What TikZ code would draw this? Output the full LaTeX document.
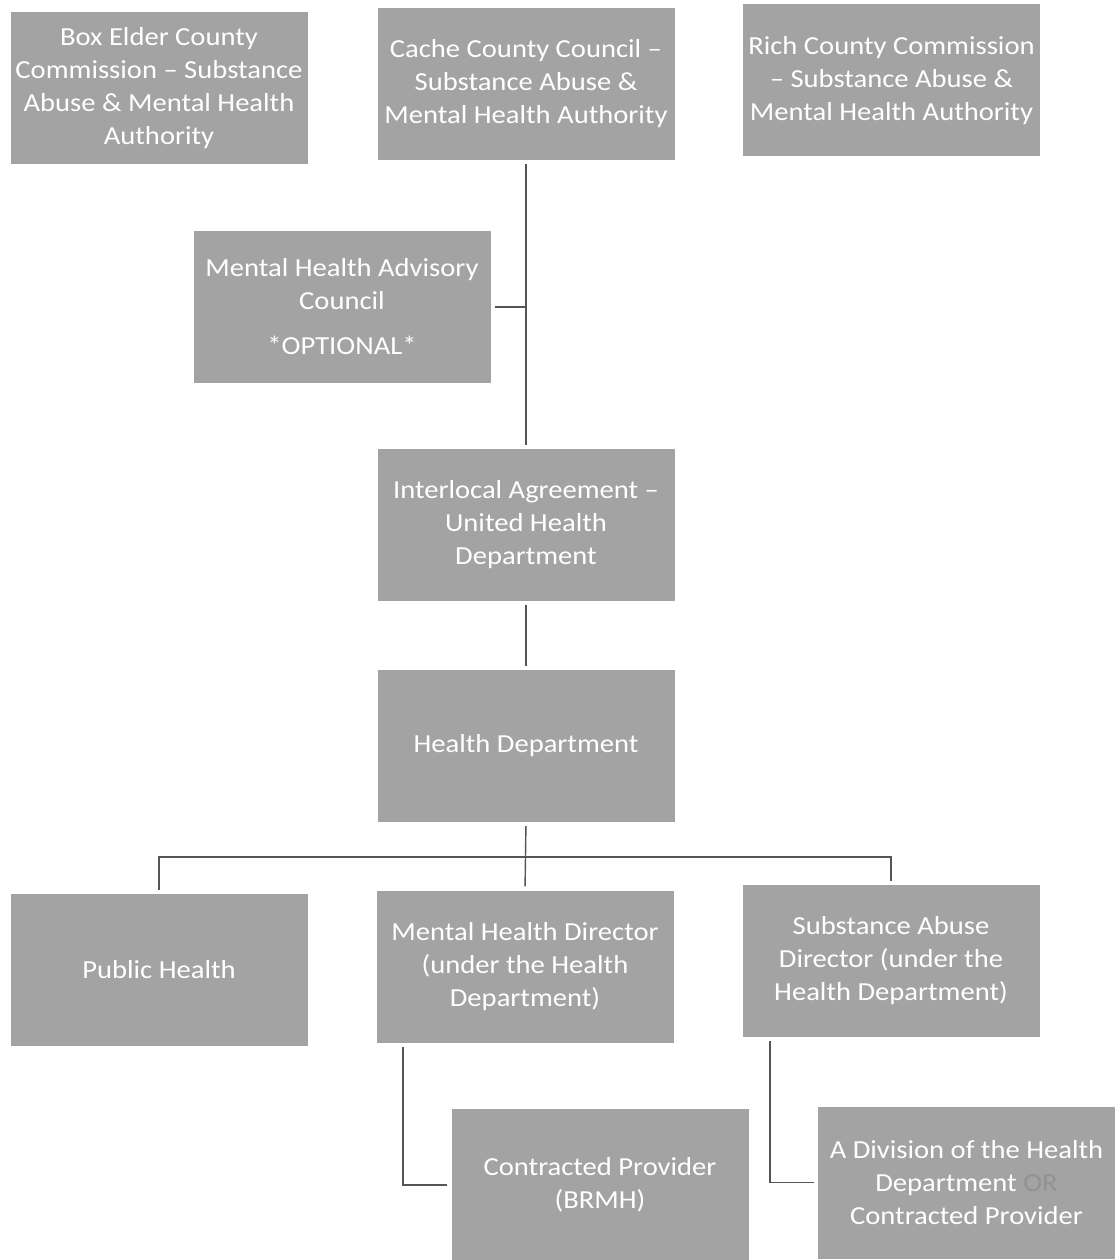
\documentclass[tikz,border=0pt]{standalone}
\usepackage{fontspec}
\setmainfont{Carlito}[FakeStretch=1.1]
\definecolor{boxgray}{RGB}{163,163,163}
\definecolor{linegray}{RGB}{85,85,85}
\definecolor{orgray}{RGB}{146,146,146}
\tikzset{
  orgbox/.style={fill=boxgray, text=white, minimum width=297pt, minimum height=152pt,
    align=center, inner sep=0pt, font=\fontsize{26}{33}\selectfont},
  conn/.style={draw=linegray, line width=1.4pt, shorten <=4pt, shorten >=4pt}
}
\begin{document}
\begin{tikzpicture}[x=1pt,y=-1pt]
\useasboundingbox (0,0) rectangle (1117,1260);
\node[orgbox] (be) at (159,88.5) {Box Elder County\\Commission -- Substance\\Abuse \& Mental Health\\Authority};
\node[orgbox] (cache) at (526,84) {Cache County Council --\\Substance Abuse \&\\Mental Health Authority};
\node[orgbox] (rich) at (891.5,80.5) {Rich County Commission\\-- Substance Abuse \&\\Mental Health Authority};
\node[orgbox] (adv) at (342,307) {Mental Health Advisory\\Council\\[12pt]*OPTIONAL*};
\node[orgbox] (inter) at (526,525) {Interlocal Agreement --\\United Health\\Department};
\node[orgbox] (hd) at (526,746) {Health Department};
\node[orgbox] (ph) at (159,970) {Public Health};
\node[orgbox] (mhd) at (525,966.5) {Mental Health Director\\(under the Health\\Department)};
\node[orgbox] (sad) at (891,961) {Substance Abuse\\Director (under the\\Health Department)};
\node[orgbox] (cp) at (600,1185) {Contracted Provider\\(BRMH)};
\node[orgbox] (div) at (966.5,1182.5) {A Division of the Health\\Department {\color{orgray}OR}\\Contracted Provider};
\coordinate (bus) at (526,857);
\draw[conn] (cache.south) -- (inter.north);
\draw[conn, shorten >=0pt] (adv.east) -- (adv.east -| cache.south);
\draw[conn] (inter.south) -- (hd.north);
\draw[conn] (hd.south) -- (mhd.north);
\draw[conn] (ph.north) |- (bus) -| (sad.north);
\draw[conn] ([xshift=-122pt]mhd.south) |- (cp.west);
\draw[conn] ([xshift=-121pt]sad.south) |- (div.west);
\end{tikzpicture}
\end{document}
